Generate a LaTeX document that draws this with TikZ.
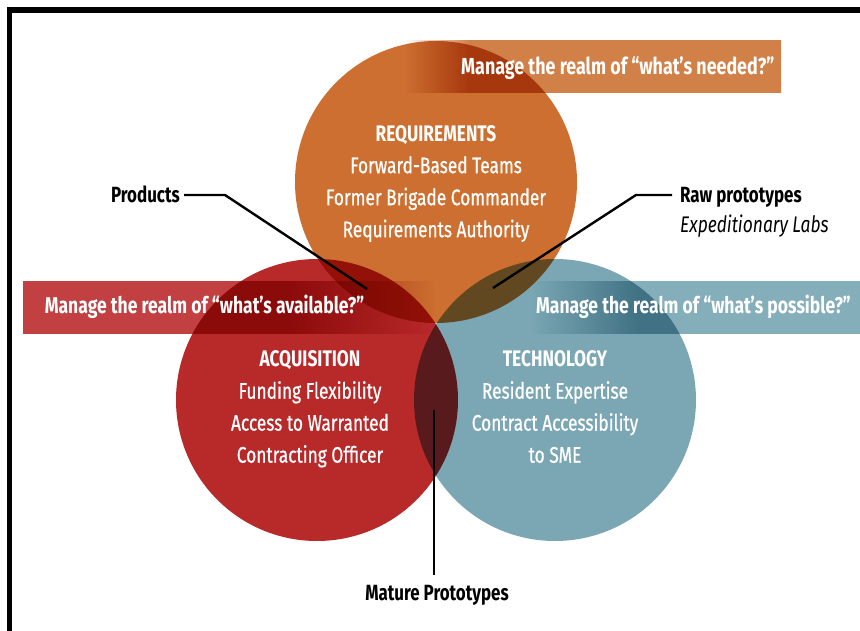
\documentclass[tikz,border=0pt]{standalone}
\usepackage{fontspec}
\setmainfont{Fira Sans}[FakeStretch=0.77]
\newfontfamily\vennfont{Fira Sans}[FakeStretch=0.77,FakeBold=0.7]

\definecolor{reqorange}{RGB}{204,111,48}
\definecolor{acqred}{RGB}{184,41,42}
\definecolor{techblue}{RGB}{123,167,180}
\definecolor{neededband}{RGB}{209,128,72}
\definecolor{availband}{RGB}{194,64,66}
\definecolor{possband}{RGB}{133,174,187}

% the path box spans 25bp..75bp of each shading
\pgfdeclarehorizontalshading{neededshade}{100bp}{color(0bp)=(white); color(25bp)=(white); color(33.6bp)=(neededband); color(100bp)=(neededband)}
\pgfdeclarehorizontalshading{availshade}{100bp}{color(0bp)=(availband); color(57bp)=(availband); color(75bp)=(white); color(100bp)=(white)}
\pgfdeclarehorizontalshading{possshade}{100bp}{color(0bp)=(white); color(25bp)=(white); color(41.5bp)=(possband); color(100bp)=(possband)}

\begin{document}
\begin{tikzpicture}[x=1pt,y=-1pt,
  ring/.style={blend mode=multiply},
  band/.style={blend mode=multiply},
  leader/.style={black,line width=2.4pt},
  realm/.style={text=white,inner sep=0pt,font=\bfseries\fontsize{22.8}{26}\selectfont},
  inner/.style={text=white,inner sep=0pt,align=center,anchor=north,font=\vennfont\fontsize{22.5}{32}\selectfont},
  tag/.style={black,inner sep=0pt,font=\bfseries\fontsize{22}{26}\selectfont}]

\useasboundingbox (0,0) rectangle (860,631);
\clip (0,0) rectangle (860,631);
\fill[white] (0,0) rectangle (860,631);
\draw[black,line width=5.5pt] (9.5,10) rectangle (900,700);

\coordinate (R) at (436,182);
\coordinate (A) at (317,400);
\coordinate (T) at (555,400);

\fill[reqorange,ring] (R) circle (141);
\fill[acqred,ring] (A) circle (141);
\fill[techblue,ring] (T) circle (141);

\shade[shading=neededshade,band] (405,41) rectangle (781,93);
\shade[shading=availshade,band] (23,282) rectangle (435,333);
\shade[shading=possshade,band] (530,282) rectangle (862,333);

\node[realm,anchor=base west,font=\bfseries\fontsize{23.2}{26}\selectfont] (needed) at (461,75) {Manage the realm of “what’s needed?”};
\node[realm,anchor=base] (avail) at (204.5,313) {Manage the realm of “what’s available?”};
\node[realm,anchor=base] (poss) at (693.5,313) {Manage the realm of “what’s possible?”};

\node[inner] (req) at (436,125) {{\rmfamily\bfseries REQUIREMENTS}\\Forward-Based Teams\\Former Brigade Commander\\Requirements Authority};
\node[inner] (acq) at (310,350.5) {{\rmfamily\bfseries ACQUISITION}\\Funding Flexibility\\Access to Warranted\\Contracting Officer};
\node[inner] (tech) at (555,350.5) {{\rmfamily\bfseries TECHNOLOGY}\\Resident Expertise\\Contract Accessibility\\to SME};

\node[tag,anchor=base east] (products) at (180,203) {Products};
\node[tag,anchor=base west] (raw) at (680,203) {Raw prototypes};
\node[black,inner sep=0pt,anchor=base west,font=\itshape\fontsize{22.6}{26}\selectfont] (labs) at (680,233) {Expeditionary Labs};
\node[tag,anchor=base] (mature) at (437,600) {Mature Prototypes};

\coordinate (prodbend) at (225,195);
\coordinate (prodtip) at (367,289);
\coordinate (rawbend) at (636,195);
\coordinate (rawtip) at (493,288);
\coordinate (maturetip) at (434,410);

\draw[leader,shorten <=4pt] (products.east |- prodbend) -- (prodbend) -- (prodtip);
\draw[leader,shorten <=8pt] (raw.west |- rawbend) -- (rawbend) -- (rawtip);
\draw[leader,shorten >=10pt] (maturetip) -- (maturetip |- mature.north);

\end{tikzpicture}
\end{document}
